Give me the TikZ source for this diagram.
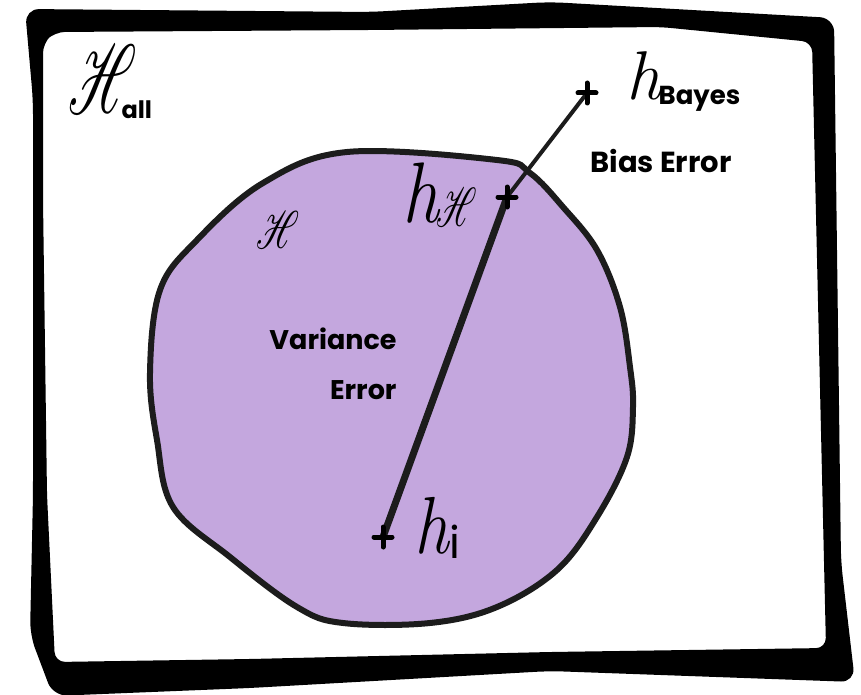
\documentclass[tikz,border=0pt]{standalone}
\usepackage{mathrsfs}
\usepackage{graphicx}
\usepackage{fontspec}
\setsansfont{Poppins}
\definecolor{hypfill}{RGB}{196,167,222}
\definecolor{ink}{RGB}{28,28,28}
\newcommand{\hypcross}[1]{\draw[crossline] ([xshift=-9pt]#1) -- ([xshift=9pt]#1) ([yshift=-10pt]#1) -- ([yshift=10pt]#1);}
\newcommand{\subtxt}[2]{\kern1pt\raisebox{-5pt}{\upshape\sffamily\fontsize{#1}{#1}\selectfont #2}}
\newcommand{\bigH}[2]{\scalebox{#1}[#2]{\fontsize{10}{12}\selectfont$\mathscr{H}$}}

\begin{document}
\begin{tikzpicture}[x=1pt, y=-1pt,
    crossline/.style={draw=black, line width=5pt, line cap=round},
    errline/.style={draw=ink, line cap=round},
    lbl/.style={font=\sffamily\bfseries\fontsize{27}{50}\selectfont, inner sep=0pt},
    sym/.style={inner sep=0pt, anchor=base west}
  ]
  \useasboundingbox (0,0) rectangle (861,695);

  % frame
  \fill[black, even odd rule, rounded corners=14pt]
    (25,9) -- (370,12) -- (550,2) -- (834,18) -- (841,562) -- (855,682)
      -- (550,671) -- (250,688) -- (53,696) -- (30,635)
      -- (33,495) -- (33,100) -- cycle
    [rounded corners=10pt] (43,43) -- (55,32) -- (370,30) -- (661,27) -- (812,42) -- (824,562)
      -- (826,648) -- (550,652) -- (250,659) -- (55,662) -- (47,495)
      -- (43,200) -- cycle;

  % hypothesis class
  \filldraw[fill=hypfill, draw=ink, line width=6pt]
    plot[smooth cycle, tension=0.6] coordinates {
      (347,152) (497,160) (530,173) (563,207) (597,250) (620,307)
      (630,367) (633,407) (627,457) (597,517) (557,570) (497,607)
      (430,623) (343,623) (297,607) (230,557) (173,507) (157,440)
      (150,373) (160,290) (197,240) (263,183)};

  \coordinate (hi) at (383,537);
  \coordinate (hH) at (507,197);
  \coordinate (hB) at (587,93);

  \draw[errline, line width=7pt] (hi) -- (hH);
  \draw[errline, line width=4pt] (hH) -- (hB);
  \hypcross{hi}
  \hypcross{hH}
  \hypcross{hB}

  % labels
  \node[sym] (Hall) at (68,114) {\bigH{5.4}{9.8}\kern-16pt\subtxt{24}{\bfseries all}};
  \node[sym] (Hset) at (256,248) {\bigH{3.4}{5.3}};
  \node[sym, font=\itshape\fontsize{69}{69}\selectfont] (lblBayes) at (626,100)
    {h\kern-3pt\subtxt{26}{\bfseries Bayes}};
  \node[sym, font=\itshape\fontsize{86}{86}\selectfont] (lblhH) at (402,222)
    {\scalebox{0.85}[1]{h}\kern-2pt\raisebox{-5pt}{\bigH{3.2}{5.5}}};
  \node[sym, font=\itshape\fontsize{81}{81}\selectfont] (lblhi) at (414,553)
    {\scalebox{0.85}[1]{h}\subtxt{44}{i}};
  \node[lbl, font=\sffamily\bfseries\fontsize{29}{50}\selectfont] (bias) at (661,161) {Bias Error};
  \node[lbl, align=right] (var) at (333,364) {Variance\\Error};
\end{tikzpicture}
\end{document}
